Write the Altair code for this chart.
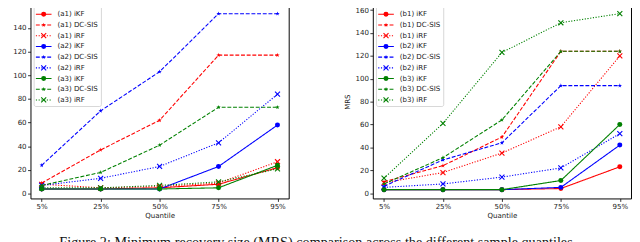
import altair as alt
import pandas as pd

quantiles = ["5%", "25%", "50%", "75%", "95%"]

# panel (a)
a_labels = ["(a1) iKF", "(a1) DC-SIS", "(a1) iRF",
            "(a2) iKF", "(a2) DC-SIS", "(a2) iRF",
            "(a3) iKF", "(a3) DC-SIS", "(a3) iRF"]
a1_ikf = [4, 4, 5, 8, 22]
a1_dcsis = [9, 37, 62, 117, 117]
a1_irf = [8, 5, 6, 9, 27]
a2_ikf = [4, 4, 4, 23, 58]
a2_dcsis = [24, 70, 103, 152, 152]
a2_irf = [7, 13, 23, 43, 84]
a3_ikf = [4, 4, 4, 5, 24]
a3_dcsis = [7, 18, 41, 73, 73]
a3_irf = [5, 5, 7, 10, 21]

# panel (b)
b_labels = ["(b1) iKF", "(b1) DC-SIS", "(b1) iRF",
            "(b2) iKF", "(b2) DC-SIS", "(b2) iRF",
            "(b3) iKF", "(b3) DC-SIS", "(b3) iRF"]
b1_ikf = [3, 3, 3, 4, 23]
b1_dcsis = [10, 24, 49, 124, 124]
b1_irf = [9, 18, 35, 58, 120]
b2_ikf = [3, 3, 3, 5, 42]
b2_dcsis = [6, 29, 44, 94, 94]
b2_irf = [5, 8, 14, 22, 52]
b3_ikf = [3, 3, 3, 11, 60]
b3_dcsis = [8, 31, 64, 124, 124]
b3_irf = [13, 61, 123, 149, 157]

a_values = [a1_ikf, a1_dcsis, a1_irf, a2_ikf, a2_dcsis, a2_irf, a3_ikf, a3_dcsis, a3_irf]
b_values = [b1_ikf, b1_dcsis, b1_irf, b2_ikf, b2_dcsis, b2_irf, b3_ikf, b3_dcsis, b3_irf]

group_colors = ["#ff0000", "#0000ff", "#008000"]
method_dash = [[1, 0], [4, 1.8], [1.2, 1.6]]

CIRCLE = "circle"
STAR = ("M0,-1L0.2245,-0.309L0.9511,-0.309L0.3633,0.118L0.5878,0.809L0,0.382"
        "L-0.5878,0.809L-0.3633,0.118L-0.9511,-0.309L-0.2245,-0.309Z")
XMARK = "M-1,-1L1,1M-1,1L1,-1"
method_shape = [CIRCLE, STAR, XMARK]
method_size = [26, 22, 26]

FONT = "DejaVu Sans"
FS = 7.2
W, H = 264, 198


def panel(labels, values, ydomain, yticks):
    xenc = alt.X("q:N", sort=quantiles,
                 scale=alt.Scale(domain=quantiles, padding=0.19),
                 axis=alt.Axis(title="Quantile", labelAngle=0))
    yenc = alt.Y("v:Q", scale=alt.Scale(domain=ydomain, nice=False, zero=False),
                 axis=alt.Axis(title="MRS", values=yticks))
    layers = []
    for i, (lab, vals) in enumerate(zip(labels, values)):
        g, m = divmod(i, 3)
        df = pd.DataFrame({"q": quantiles, "v": vals, "s": lab})
        col = group_colors[g]
        base = alt.Chart(df)
        layers.append(base.mark_line(color=col, strokeWidth=1.1,
                                     strokeDash=method_dash[m]).encode(x=xenc, y=yenc))
        if m == 2:
            pt = base.mark_point(shape=method_shape[m], size=method_size[m],
                                 filled=False, color=col, strokeWidth=1.1, opacity=1)
        else:
            pt = base.mark_point(shape=method_shape[m], size=method_size[m],
                                 filled=True, color=col, opacity=1)
        layers.append(pt.encode(x=xenc, y=yenc))
    # legend box
    box = alt.Chart(pd.DataFrame({"k": [0]})).mark_rect(
        fill="white", fillOpacity=0.8, stroke="#cccccc", strokeWidth=0.8, cornerRadius=2
    ).encode(x=alt.value(3.7), x2=alt.value(72.5), y=alt.value(1.2), y2=alt.value(104))
    layers.append(box)
    for i, lab in enumerate(labels):
        g, m = divmod(i, 3)
        col = group_colors[g]
        ypix = 9.7 + 10.95 * i
        ld = alt.Chart(pd.DataFrame({"s": [lab]}))
        layers.append(ld.mark_rule(color=col, strokeWidth=1.1, strokeDash=method_dash[m]).encode(
            x=alt.value(5.5), x2=alt.value(21.5), y=alt.value(ypix)))
        if m == 2:
            lp = ld.mark_point(shape=method_shape[m], size=method_size[m], filled=False,
                               color=col, strokeWidth=1.1, opacity=1)
        else:
            lp = ld.mark_point(shape=method_shape[m], size=method_size[m], filled=True,
                               color=col, opacity=1)
        layers.append(lp.encode(x=alt.value(13.5), y=alt.value(ypix)))
        layers.append(ld.mark_text(align="left", baseline="middle", font=FONT,
                                   fontSize=FS, color="#222222").encode(
            x=alt.value(27.5), y=alt.value(ypix), text="s:N"))
    return alt.layer(*layers).properties(width=W, height=H)


left = panel(a_labels, a_values, [-4, 159.5], [0, 20, 40, 60, 80, 100, 120, 140])
right = panel(b_labels, b_values, [-4.7, 164.7], [0, 20, 40, 60, 80, 100, 120, 140, 160])

chart = alt.hconcat(left, right, spacing=54).properties(
    padding={"left": -8, "top": -7, "right": 0, "bottom": 0},
    title=alt.TitleParams(
        text="Figure 2: Minimum recovery size (MRS) comparison across the different sample quantiles",
        orient="bottom", anchor="middle", font="Liberation Serif", fontSize=14.5,
        fontWeight="normal", color="#111111", offset=17),
).configure_view(stroke="black", strokeWidth=1).configure_axis(
    domain=False, grid=False, tickColor="black", tickSize=3, tickWidth=0.8,
    labelFont=FONT, labelFontSize=FS, labelColor="#222222", labelPadding=1.5,
    titleFont=FONT, titleFontSize=FS, titleFontWeight="normal", titleColor="#222222",
).configure_axisX(titlePadding=2).configure_axisY(titlePadding=4)

chart.save("out.html", embed_options={"renderer": "svg", "actions": False})
